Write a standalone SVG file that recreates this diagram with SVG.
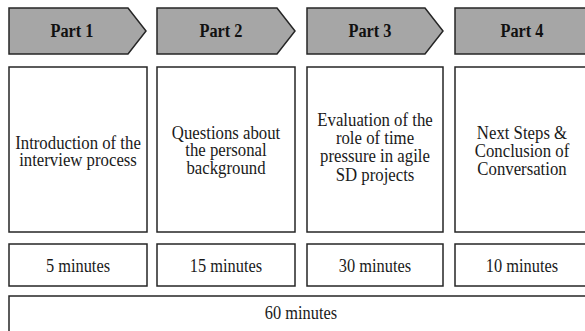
<svg xmlns="http://www.w3.org/2000/svg" width="585" height="331" viewBox="0 0 585 331">
<style>
.chev{fill:#a6a6a6;stroke:#262626;stroke-width:1.5;stroke-linejoin:miter}
.box{fill:#ffffff;stroke:#262626;stroke-width:1.5}
.t{font-family:"Liberation Serif","Times New Roman",serif;font-size:19.5px;fill:#1a1a1a;text-anchor:middle}
.h{font-family:"Liberation Serif","Times New Roman",serif;font-size:19px;font-weight:bold;fill:#111;text-anchor:middle}
</style>
<rect width="585" height="331" fill="#ffffff"/>
<g id="part1">
<path class="chev" d="M9,8 H128 L146,31 L128,54 H9 Z"/>
<text class="h" transform="translate(72,37) scale(0.86,1)">Part 1</text>
</g>
<g id="part2">
<path class="chev" d="M157,8 H277 L295,31 L277,54 H157 Z"/>
<text class="h" transform="translate(221,37) scale(0.86,1)">Part 2</text>
</g>
<g id="part3">
<path class="chev" d="M307,8 H425 L443,31 L425,54 H307 Z"/>
<text class="h" transform="translate(370,37) scale(0.86,1)">Part 3</text>
</g>
<g id="part4">
<rect class="chev" x="455" y="8" width="138" height="46"/>
<text class="h" transform="translate(522,37) scale(0.86,1)">Part 4</text>
</g>
<g id="desc1">
<rect class="box" x="9" y="67" width="138" height="165"/>
<text class="t" transform="translate(78,148.5) scale(0.86,1)"><tspan x="0" y="0">Introduction of the</tspan><tspan x="0" y="17.5">interview process</tspan></text>
</g>
<g id="desc2">
<rect class="box" x="157" y="67" width="138" height="165"/>
<text class="t" transform="translate(226,138.5) scale(0.86,1)"><tspan x="0" y="0">Questions about</tspan><tspan x="0" y="17.8">the personal</tspan><tspan x="0" y="35.6">background</tspan></text>
</g>
<g id="desc3">
<rect class="box" x="307" y="67" width="136" height="165"/>
<text class="t" transform="translate(375,125.5) scale(0.86,1)"><tspan x="0" y="0">Evaluation of the</tspan><tspan x="0" y="18.4">role of time</tspan><tspan x="0" y="36.8">pressure in agile</tspan><tspan x="0" y="55.2">SD projects</tspan></text>
</g>
<g id="desc4">
<rect class="box" x="455" y="67" width="138" height="165"/>
<text class="t" transform="translate(522,138.5) scale(0.86,1)"><tspan x="0" y="0">Next Steps &amp;</tspan><tspan x="0" y="18.3">Conclusion of</tspan><tspan x="0" y="36.6">Conversation</tspan></text>
</g>
<g id="time1">
<rect class="box" x="9" y="244" width="138" height="42"/>
<text class="t" transform="translate(78,271.5) scale(0.84,1)">5 minutes</text>
</g>
<g id="time2">
<rect class="box" x="157" y="244" width="138" height="42"/>
<text class="t" transform="translate(226,271.5) scale(0.84,1)">15 minutes</text>
</g>
<g id="time3">
<rect class="box" x="307" y="244" width="136" height="42"/>
<text class="t" transform="translate(375,271.5) scale(0.84,1)">30 minutes</text>
</g>
<g id="time4">
<rect class="box" x="455" y="244" width="138" height="42"/>
<text class="t" transform="translate(522,271.5) scale(0.84,1)">10 minutes</text>
</g>
<g id="total">
<rect class="box" x="9" y="296" width="584" height="42"/>
<text class="t" transform="translate(301,319) scale(0.84,1)">60 minutes</text>
</g>
</svg>
